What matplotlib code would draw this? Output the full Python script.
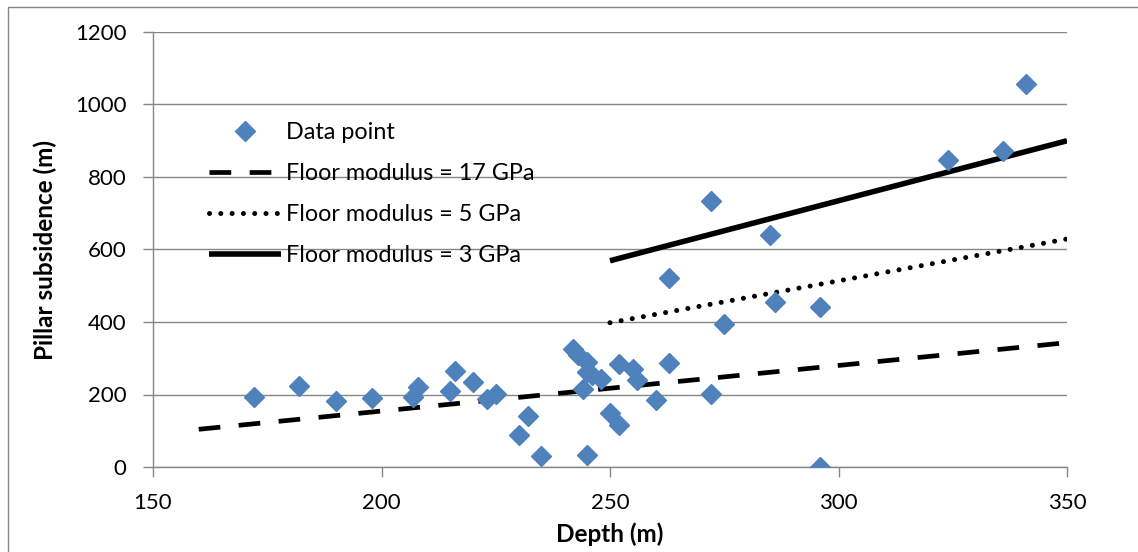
import matplotlib
matplotlib.use("Agg")
import matplotlib.pyplot as plt
from matplotlib.patches import Rectangle

plt.rcParams['font.family'] = ['Lato', 'DejaVu Sans']

# measured pillar subsidence vs depth
depth = [172, 182, 190, 198, 207, 208, 215, 216, 220, 223, 225, 230, 232, 235,
         242, 243, 245, 245, 246, 248, 244, 245, 250, 252, 252, 255, 256, 260,
         263, 263, 272, 272, 275, 285, 286, 296, 296, 324, 336, 341]
subsidence = [194, 223, 182, 190, 193, 220, 211, 266, 234, 188, 202, 88, 141, 30,
              326, 308, 289, 262, 253, 243, 216, 33, 149, 116, 285, 271, 239, 184,
              288, 521, 201, 734, 395, 640, 456, 442, 0, 847, 872, 1057]

# model lines for different floor moduli
depth_17 = [160, 350]
subs_17 = [104, 343]
depth_5 = [250, 350]
subs_5 = [398, 629]
depth_3 = [250, 350]
subs_3 = [569, 900]

grey = '#868686'
blue = '#4F81BD'

fig = plt.figure(figsize=(11.38, 5.52), dpi=100)
ax = fig.add_axes([153/1138, 1 - 467/552, 914/1138, 435/552])

ax.plot(depth, subsidence, linestyle='none', marker='D', markersize=10,
        color=blue, label='Data point', zorder=3)
ax.plot(depth_17, subs_17, color='black', lw=3.4, dashes=(4.6, 3.9),
        label='Floor modulus = 17 GPa', zorder=2)
ax.plot(depth_5, subs_5, color='black', lw=3.6, dashes=(0.01, 2.25),
        dash_capstyle='round', label='Floor modulus = 5 GPa', zorder=2)
ax.plot(depth_3, subs_3, color='black', lw=4.0, solid_capstyle='butt',
        label='Floor modulus = 3 GPa', zorder=2)

ax.set_xlim(150, 350)
ax.set_ylim(0, 1200)
ax.set_xticks(range(150, 351, 50))
ax.set_yticks(range(0, 1201, 200))
ax.grid(axis='y', color=grey, lw=1.0)
ax.set_axisbelow(True)
for s in ['top', 'right']:
    ax.spines[s].set_visible(False)
for s in ['left', 'bottom']:
    ax.spines[s].set_color(grey)
    ax.spines[s].set_linewidth(1.0)
ax.tick_params(axis='both', direction='out', length=7, width=1.0, color=grey,
               labelsize=16, labelcolor='black')
ax.tick_params(axis='x', pad=12)
ax.tick_params(axis='y', pad=12)

ax.set_xlabel('Depth (m)', fontsize=17.5, fontweight='bold')
ax.set_ylabel('Pillar subsidence (m)', fontsize=17.5, fontweight='bold')
ax.xaxis.set_label_coords(0.5, -0.128)
ax.yaxis.set_label_coords(-0.105, 0.5)

leg = ax.legend(loc='upper left', bbox_to_anchor=(209/1138, 1 - 122/552),
                bbox_transform=fig.transFigure, frameon=False, fontsize=16.8,
                handlelength=3.1, handletextpad=0.22, labelspacing=0.86,
                borderpad=0, borderaxespad=0, numpoints=1)

# chart border
fig.patches.append(Rectangle((8/1138, -0.1), 1.2, 1.1 - 7/552, transform=fig.transFigure,
                             fill=False, edgecolor=grey, lw=1.0))

fig.savefig('out.png', dpi=100)
